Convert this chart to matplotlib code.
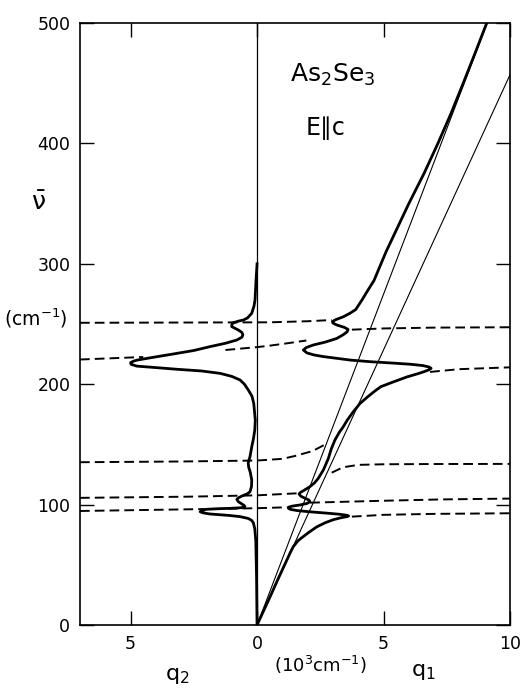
import matplotlib
matplotlib.use("Agg")
import matplotlib.pyplot as plt

nu_q1 = [0, 20, 40, 55, 60, 65, 70, 73, 77, 81.5, 85, 87.5, 89, 90, 90.6, 91.3,
         92, 93, 94, 95, 96, 97, 97.8, 98.7, 99.7, 101, 102.4, 103.8, 105.2, 107,
         108.8, 110.2, 111.5, 114.9, 118, 121.8, 128.7, 138.4, 146, 153.7, 160,
         164.7, 170, 177, 184, 190, 195, 198, 202, 206, 209, 210.4, 212, 213.2,
         214.3, 215.5, 216.5, 217.5, 218.7, 220, 221.5, 223, 224.3, 226, 228.4,
         230.5, 232.6, 235, 238, 241, 243.5, 245.5, 247.2, 249.2, 250.8, 252,
         253.5, 256, 259, 262, 270, 278, 286, 295, 310, 330, 350, 375, 400, 424,
         450, 475, 500]
q1 = [0, 0.44, 0.87, 1.2, 1.31, 1.43, 1.62, 1.8, 2.05, 2.36, 2.7, 3.02, 3.3, 3.55,
      3.62, 3.5, 3.25, 2.7, 2.1, 1.6, 1.32, 1.24, 1.24, 1.38, 1.7, 1.98, 2.09,
      2.05, 1.9, 1.73, 1.66, 1.72, 1.83, 2.09, 2.27, 2.42, 2.62, 2.82, 2.93, 3.08,
      3.25, 3.41, 3.56, 3.8, 4.07, 4.4, 4.7, 4.9, 5.4, 5.92, 6.4, 6.6, 6.8, 6.88,
      6.8, 6.55, 6.1, 5.4, 4.47, 3.7, 3.15, 2.6, 2.25, 1.97, 1.83, 1.95, 2.23,
      2.7, 3.15, 3.4, 3.56, 3.6, 3.45, 3.15, 3.0, 2.98, 3.1, 3.41, 3.68, 3.9,
      4.15, 4.38, 4.62, 4.8, 5.1, 5.55, 6.0, 6.6, 7.15, 7.65, 8.15, 8.62, 9.08]

# q2 (imaginary part), drawn to the left of zero
nu_q2 = [0, 40, 70, 80, 85, 87, 88.5, 90, 91, 92.2, 93.2, 94.1, 95, 96.1, 96.6,
         96.9, 97.3, 97.7, 98.6, 99.7, 102.4, 104.4, 105.8, 107.1, 109, 110.7,
         115, 120.4, 127, 131, 134.3, 137, 139.8, 148, 155, 162, 170, 184, 190,
         195, 200, 203.5, 206.5, 209, 211, 212.4, 213.8, 215, 216.5, 217.9, 219,
         220, 222, 225.6, 228, 231.2, 234, 236.7, 239, 240.9, 243, 245, 246.5,
         247.8, 249.5, 251, 252.3, 253.3, 255, 258.9, 265, 270, 286.5, 300]
q2 = [0, 0.02, 0.05, 0.09, 0.15, 0.22, 0.35, 0.67, 1.1, 1.86, 2.15, 2.25, 2.2,
      2.0, 1.5, 1.07, 0.7, 0.5, 0.48, 0.54, 0.74, 0.8, 0.72, 0.6, 0.38, 0.28,
      0.22, 0.21, 0.27, 0.33, 0.35, 0.32, 0.28, 0.21, 0.14, 0.09, 0.07, 0.13,
      0.2, 0.34, 0.5, 0.67, 1.0, 1.46, 2.2, 3.17, 4.0, 4.75, 4.98, 5.0, 4.9,
      4.75, 4.2, 3.17, 2.5, 1.86, 1.25, 0.8, 0.6, 0.56, 0.6, 0.74, 0.88, 1.0,
      1.0, 0.94, 0.75, 0.54, 0.38, 0.21, 0.12, 0.08, 0.04, 0.0]

# undamped branches (dashed), as (q, nu) pairs
dashed_branches = [
    ([-7, 0.5, 2.0, 2.95], [251, 251.4, 252.3, 253.3]),
    ([3.75, 5, 7, 10], [245.3, 246.3, 247, 247.3]),
    ([-7, -5.8, -4.5], [220.5, 221.5, 222.6]),
    ([-1.25, 0, 0.5, 1.2, 1.95], [228.4, 230.8, 232, 234, 236.3]),
    ([6.84, 8, 10], [210.2, 212.5, 214]),
    ([-7, -3, 0, 1.0, 1.5, 2.2, 2.65], [135.2, 135.8, 136.6, 138, 140.4, 144.5, 149.5]),
    ([2.95, 3.4, 4.0, 5.0, 7, 10], [126.5, 131, 133, 133.5, 133.7, 133.8]),
    ([-7, -2.65, 0, 1.6], [105.6, 106.6, 107.7, 109.4]),
    ([2.1, 5, 7.3, 10], [101.6, 103.2, 104.3, 105]),
    ([-7, -2.65, 0, 1.2], [94.7, 96.1, 97, 97.8]),
    ([3.75, 5, 7, 10], [90, 91.5, 92.3, 92.8]),
]

# light lines for eps_inf and eps_0
line_inf_q, line_inf_nu = [0, 9.1], [0, 500]
line_0_q, line_0_nu = [0, 10], [0, 457]

xtick_pos = [-5, 0, 5, 10]
xtick_txt = ["5", "0", "5", "10"]
ytick_pos = [0, 100, 200, 300, 400, 500]

plt.rcParams["mathtext.default"] = "regular"

W, H = 522, 689
fig = plt.figure(figsize=(W / 100, H / 100), dpi=100)
ax = fig.add_axes([80 / W, 64 / H, 430 / W, 602 / H])
ax.set_xlim(-7, 10)
ax.set_ylim(0, 500)

ax.axvline(0, color="k", lw=0.9)
ax.plot(line_inf_q, line_inf_nu, color="k", lw=0.8)
ax.plot(line_0_q, line_0_nu, color="k", lw=0.8)
ax.plot(q1, nu_q1, color="k", lw=2.0, solid_joinstyle="round")
ax.plot([-v for v in q2], nu_q2, color="k", lw=2.0, solid_joinstyle="round")
for qq, nn in dashed_branches:
    ax.plot(qq, nn, color="k", lw=1.4, dashes=(5, 2.6))

ax.set_xticks(xtick_pos)
ax.set_xticklabels(xtick_txt)
ax.set_yticks(ytick_pos)
ax.tick_params(direction="in", length=10, width=1, top=True, right=True,
               labelsize=12.5, pad=7)
for sp in ax.spines.values():
    sp.set_linewidth(1.2)

ax.text(3.0, 457, "As$_2$Se$_3$", fontsize=18, ha="center", va="center")
ax.text(2.7, 413, "E\u2225c", fontsize=17, ha="center", va="center")

fig.text(38 / W, 1 - 203 / H, r"$\bar{\nu}$", fontsize=18, ha="center", va="center")
fig.text(36 / W, 1 - 318 / H, "(cm$^{-1}$)", fontsize=13.5, ha="center", va="center")
fig.text(177 / W, 1 - 676 / H, "q$_2$", fontsize=16, ha="center", va="center")
fig.text(320 / W, 1 - 665 / H, "(10$^3$cm$^{-1}$)", fontsize=13, ha="center", va="center")
fig.text(423 / W, 1 - 672 / H, "q$_1$", fontsize=16, ha="center", va="center")

fig.savefig("out.png", dpi=100)
